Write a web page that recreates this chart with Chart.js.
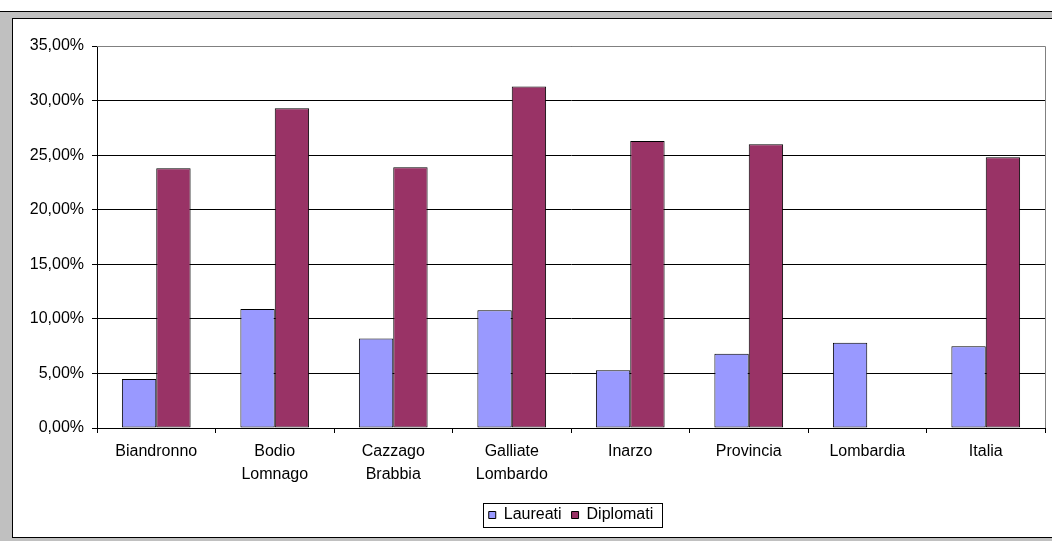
<!DOCTYPE html>
<html>
<head>
<meta charset="utf-8">
<script src="https://cdn.jsdelivr.net/npm/chart.js@4.4.1/dist/chart.umd.min.js"></script>
<style>
  html, body { margin: 0; padding: 0; background: #fff; width: 1052px; height: 541px; overflow: hidden; }
  #topline { position: absolute; left: 0; top: 11px; width: 1052px; height: 1px; background: #000; }
  #grey { position: absolute; left: 0; top: 12px; width: 1052px; height: 529px; background: #c0c0c0; }
  #frame { position: absolute; left: 12px; top: 18px; width: 1040px; height: 520px; background: #000; }
  #wrap { position: absolute; left: 13px; top: 19px; width: 1039px; height: 518px; background: #fff; }
  canvas { display: block; }
</style>
</head>
<body>
<div id="topline"></div>
<div id="grey"></div>
<div id="frame"></div>
<div id="wrap"><canvas id="c" width="1039" height="518"></canvas></div>
<script>
// ---- data ----
const categories = [["Biandronno"], ["Bodio", "Lomnago"], ["Cazzago", "Brabbia"], ["Galliate", "Lombardo"], ["Inarzo"], ["Provincia"], ["Lombardia"], ["Italia"]];
const seriesNames = ["Laureati", "Diplomati"];
const laureati = [4.5, 10.9, 8.2, 10.8, 5.3, 6.8, 7.8, 7.5];
const diplomati = [23.8, 29.3, 23.9, 31.3, 26.3, 26.0, null, 24.8];
const yTicks = { min: 0, max: 35, step: 5 };

const FONT = "'Liberation Sans', Arial, sans-serif";

const frameAndLegendBox = {
  id: 'frameAndLegendBox',
  afterLayout(chart) {
    const lg = chart.legend;
    const ca = chart.chartArea;
    if (!lg) return;
    const cx = (ca.left + ca.right) / 2;
    const shift = cx - (lg.left + lg.right) / 2;
    lg.left += shift; lg.right += shift;
    const h = lg.bottom - lg.top;
    const desiredCenter = 496;
    const pad = lg.options.labels.padding;
    const fs = 16;
    const newTop = desiredCenter - pad - fs / 2;
    lg.top = newTop; lg.bottom = newTop + h;
  },
  beforeDatasetsDraw(chart) {
    const ctx = chart.ctx, ca = chart.chartArea;
    ctx.save();
    ctx.strokeStyle = '#808080';
    ctx.lineWidth = 1;
    ctx.beginPath();
    ctx.moveTo(ca.left, ca.top + 0.5);
    ctx.lineTo(Math.round(ca.right) + 0.5, ca.top + 0.5);
    ctx.lineTo(Math.round(ca.right) + 0.5, ca.bottom);
    ctx.stroke();
    ctx.restore();
  },
  afterDraw(chart) {
    const lg = chart.legend;
    if (!lg) return;
    const ctx = chart.ctx;
    const pad = lg.options.labels.padding;
    const contentW = lg.lineWidths[0] - pad;
    const x0 = (lg.left + lg.right) / 2 - contentW / 2;
    const cy = 496;
    ctx.save();
    ctx.strokeStyle = '#000';
    ctx.lineWidth = 1;
    ctx.strokeRect(Math.round(x0 - 6) + 0.5, Math.round(cy - 12) + 0.5, Math.round(contentW + 14), 24);
    ctx.restore();
  }
};

new Chart(document.getElementById('c'), {
  type: 'bar',
  data: {
    labels: categories,
    datasets: [
      { label: seriesNames[0], data: laureati, backgroundColor: '#9999FF', borderColor: '#000', borderWidth: 1, borderSkipped: false },
      { label: seriesNames[1], data: diplomati, backgroundColor: '#993366', borderColor: '#000', borderWidth: 1, borderSkipped: false }
    ]
  },
  options: {
    responsive: false,
    animation: false,
    devicePixelRatio: 1,
    datasets: { bar: { categoryPercentage: 0.58, barPercentage: 1.0 } },
    layout: { padding: { top: 27, right: 7, left: 0, bottom: 0 } },
    plugins: {
      tooltip: { enabled: false },
      title: { display: false },
      legend: {
        display: true,
        position: 'bottom',
        labels: {
          boxWidth: 7, boxHeight: 7, padding: 10,
          color: '#000',
          font: { family: FONT, size: 16 },
          generateLabels(chart) {
            return chart.data.datasets.map((ds, i) => ({
              text: ds.label, fillStyle: ds.backgroundColor, strokeStyle: '#000', lineWidth: 1,
              hidden: false, datasetIndex: i, fontColor: '#000'
            }));
          }
        }
      }
    },
    scales: {
      x: {
        offset: true,
        grid: { offset: true, drawOnChartArea: false, drawTicks: true, tickLength: 5, color: '#000', lineWidth: 1 },
        border: { color: '#000', width: 1 },
        ticks: { color: '#000', font: { family: FONT, size: 16, lineHeight: 1.45 }, padding: 7, maxRotation: 0, autoSkip: false },
        afterFit(scale) { scale.height = 73; }
      },
      y: {
        min: yTicks.min, max: yTicks.max,
        grid: { color: '#000', lineWidth: 1, tickLength: 5, drawTicks: true },
        border: { color: '#000', width: 1 },
        ticks: {
          stepSize: yTicks.step, color: '#000', padding: 8,
          font: { family: FONT, size: 16 },
          callback: v => v.toFixed(2).replace('.', ',') + '%'
        },
        afterFit(scale) { scale.width = 84; }
      }
    }
  },
  plugins: [frameAndLegendBox]
});
</script>
</body>
</html>
